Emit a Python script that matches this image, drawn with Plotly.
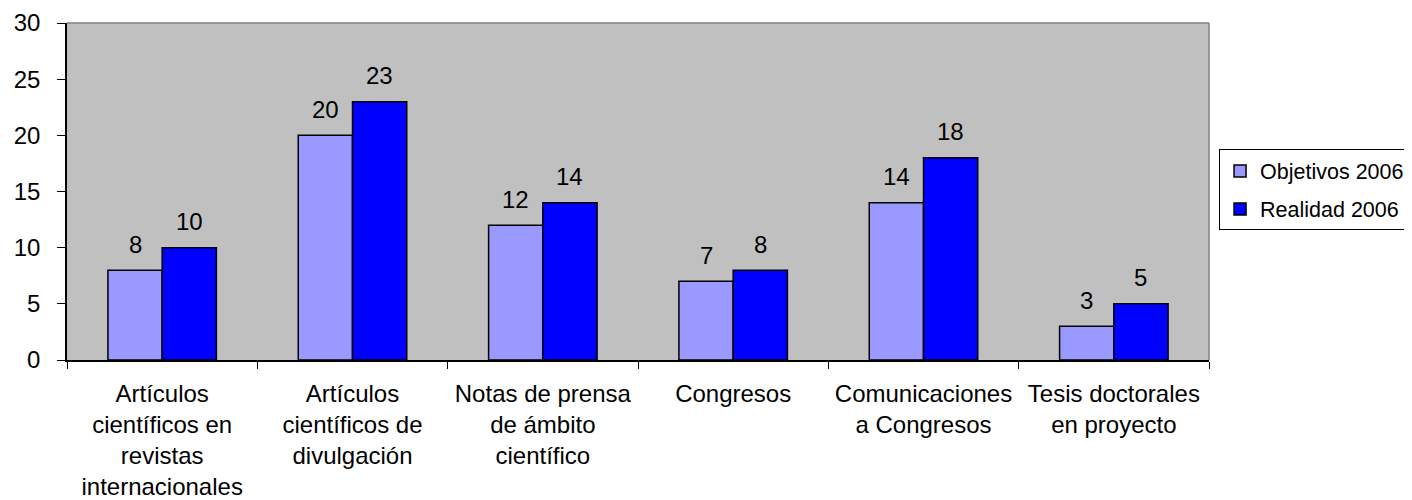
import plotly.graph_objects as go

categories = [
    "Artículos<br>científicos en<br>revistas<br>internacionales",
    "Artículos<br>científicos de<br>divulgación",
    "Notas de prensa<br>de ámbito<br>científico",
    "Congresos",
    "Comunicaciones<br>a Congresos",
    "Tesis doctorales<br>en proyecto",
]
objetivos = [8, 20, 12, 7, 14, 3]
realidad = [10, 23, 14, 8, 18, 5]
series_names = ["Objetivos 2006", "Realidad 2006"]
y_ticks = [0, 5, 10, 15, 20, 25, 30]

FONT = "Arial, Liberation Sans, sans-serif"
FS = 24

fig = go.Figure()
fig.add_trace(go.Bar(x=categories, y=objetivos, name=series_names[0], legendgroup="a",
                     marker=dict(color="#9999FF", line=dict(color="black", width=1.5))))
fig.add_trace(go.Bar(x=categories, y=realidad, name=series_names[1], legendgroup="b",
                     marker=dict(color="#0000FF", line=dict(color="black", width=1.5))))

annotations = []
for vals, shift in ((objetivos, -27), (realidad, 27)):
    for c, v in zip(categories, vals):
        annotations.append(dict(x=c, y=v, xref="x", yref="y", text=str(v),
                                showarrow=False, xshift=shift, yshift=26,
                                yanchor="middle",
                                font=dict(family=FONT, size=FS, color="black")))

fig.update_layout(
    width=1404, height=492,
    margin=dict(l=59, r=203, t=15, b=140, autoexpand=False),
    paper_bgcolor="white", plot_bgcolor="#C0C0C0",
    barmode="group", bargap=0.43, bargroupgap=0,
    font=dict(family=FONT, size=FS, color="black"),
    showlegend=True,
    legend=dict(x=1.0088, xanchor="left", y=0.5045, yanchor="middle",
                traceorder="grouped", tracegroupgap=7,
                bgcolor="white", bordercolor="black", borderwidth=1,
                font=dict(family=FONT, size=21.5, color="black")),
    annotations=annotations,
    shapes=[
        dict(type="line", xref="paper", yref="paper", x0=0, x1=1, y0=1, y1=1,
             line=dict(color="#808080", width=1.5)),
        dict(type="line", xref="paper", yref="paper", x0=1, x1=1, y0=0, y1=1,
             line=dict(color="#808080", width=1.5)),
    ],
)
fig.update_xaxes(type="category", tickson="boundaries", ticks="outside", ticklen=7,
                 tickangle=0, automargin=False, ticklabelstandoff=11,
                 tickcolor="black", showline=True, linecolor="black", linewidth=1.5,
                 showgrid=False, zeroline=False,
                 tickfont=dict(family=FONT, size=FS, color="black"))
fig.update_yaxes(range=[0, 30], tickvals=y_ticks, ticks="outside", ticklen=8,
                 automargin=False,
                 tickcolor="black", showline=True, linecolor="black", linewidth=1.5,
                 showgrid=False, zeroline=False, ticklabelstandoff=12,
                 tickfont=dict(family=FONT, size=FS, color="black"))

fig.write_html("out.html")
